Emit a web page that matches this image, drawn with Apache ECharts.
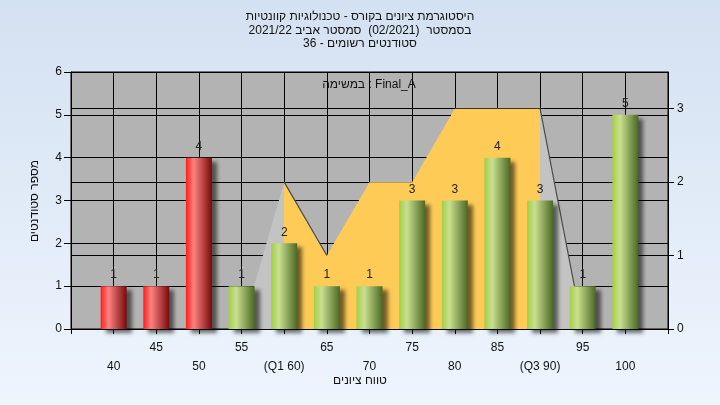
<!DOCTYPE html>
<html><head><meta charset="utf-8">
<script src="https://cdn.jsdelivr.net/npm/echarts@6/dist/echarts.min.js"></script>
<style>html,body{margin:0;padding:0;background:#e6eef8}#c{width:720px;height:405px;}</style>
</head><body><div id="c"></div>
<script>
// ---- data ----
const titleLines = ['היסטוגרמת ציונים בקורס - טכנולוגיות קוונטיות', 'בסמסטר  (02/2021)  סמסטר אביב 2021/22', 'סטודנטים רשומים - 36'];
const taskLabel = 'במשימה : Final_A';
const yAxisName = 'מספר סטודנטים';
const xAxisName = 'טווח ציונים';
const grades = [40, 45, 50, 55, 60, 65, 70, 75, 80, 85, 90, 95, 100];
const counts = [1, 1, 4, 1, 2, 1, 1, 3, 3, 4, 3, 1, 5];
const failBelow = 55;
const quartileLabels = {60: '(Q1 60)', 90: '(Q3 90)'};
const distX = [55, 60, 65, 70, 75, 80, 85, 90, 95];
const distY = [0, 2, 1, 2, 2, 3, 3, 3, 0];
const q1 = 60, q3 = 90;

// ---- chart ----
const RLM = '\u200F';
const FONT = "'Liberation Sans', Arial, 'DejaVu Sans', sans-serif";
const chart = echarts.init(document.getElementById('c'), null, {renderer: 'canvas'});

const xMin = 35, xMax = 105;
const redGrad = new echarts.graphic.LinearGradient(0, 0, 1, 0, [
  {offset: 0, color: '#ff1c1c'}, {offset: 0.3, color: '#ff8282'}, {offset: 1, color: '#780a0a'}]);
const greenGrad = new echarts.graphic.LinearGradient(0, 0, 1, 0, [
  {offset: 0, color: '#a2cf46'}, {offset: 0.3, color: '#c9df90'}, {offset: 1, color: '#4b6823'}]);

const span = distX[distX.length - 1] - distX[0];
const a = (q1 - distX[0]) / span, b = (q3 - distX[0]) / span;
const areaGrad = new echarts.graphic.LinearGradient(0, 0, 1, 0, [
  {offset: 0, color: '#c3c3c3'}, {offset: a, color: '#c3c3c3'},
  {offset: a, color: '#fecb57'}, {offset: b, color: '#fecb57'},
  {offset: b, color: '#c3c3c3'}, {offset: 1, color: '#c3c3c3'}]);

// descending edges of the distribution outline
const descData = [];
for (let i = 0; i < distX.length - 1; i++) {
  if (distY[i + 1] < distY[i]) {
    if (descData.length) descData.push([distX[i], '-']);
    descData.push([distX[i], distY[i]], [distX[i + 1], distY[i + 1]]);
  }
}

const barData = grades.map((g, i) => ({
  value: [g, counts[i]],
  itemStyle: {color: g < failBelow ? redGrad : greenGrad}
}));

chart.setOption({
  backgroundColor: new echarts.graphic.LinearGradient(0, 0, 0, 1, [
    {offset: 0, color: '#d4e1f2'}, {offset: 1, color: '#eef5fd'}]),
  animation: false,
  title: {
    text: titleLines.map(t => RLM + t + RLM).join('\n'),
    left: 'center', top: 10, padding: 0,
    textStyle: {fontFamily: FONT, fontSize: 12, fontWeight: 'normal', color: '#111', lineHeight: 13.5}
  },
  grid: {left: 71, right: 52, top: 72, bottom: 76, show: true, backgroundColor: '#b3b3b3', borderColor: '#000', borderWidth: 1},
  xAxis: {
    type: 'value', min: xMin, max: xMax, interval: 5,
    axisLine: {lineStyle: {color: '#000'}},
    axisTick: {show: true, length: 5, lineStyle: {color: '#000'}},
    splitLine: {show: true, lineStyle: {color: '#000', width: 1}},
    axisLabel: {
      margin: 9, fontFamily: FONT, fontSize: 12, color: '#111', lineHeight: 19,
      formatter: v => {
        if (v < grades[0] || v > grades[grades.length - 1]) return '';
        const t = quartileLabels[v] || String(v);
        return (v % 10 === 0) ? '\n' + t : t;
      }
    }
  },
  yAxis: [{
    type: 'value', min: 0, max: 6, interval: 1, position: 'left',
    axisLine: {show: true, lineStyle: {color: '#000'}},
    axisTick: {show: true, length: 7, lineStyle: {color: '#000'}},
    splitLine: {show: true, lineStyle: {color: '#000', width: 1}},
    axisLabel: {margin: 9, fontFamily: FONT, fontSize: 12, color: '#111'}
  }, {
    type: 'value', min: 0, max: 3.5, interval: 1, position: 'right',
    axisLine: {show: true, lineStyle: {color: '#000'}},
    axisTick: {show: true, length: 6, lineStyle: {color: '#000'}},
    splitLine: {show: true, lineStyle: {color: '#000', width: 1}},
    axisLabel: {margin: 9, fontFamily: FONT, fontSize: 12, color: '#111', showMaxLabel: false,
      formatter: v => (v % 1 === 0 ? String(v) : '')}
  }],
  graphic: [
    {type: 'text', x: 369, y: 85, z: 10, style: {text: taskLabel, font: '12px ' + FONT, fill: '#111', textAlign: 'center', textVerticalAlign: 'middle'}},
    {type: 'text', x: 360, y: 381, style: {text: xAxisName, font: '12px ' + FONT, fill: '#111', textAlign: 'center', textVerticalAlign: 'middle'}},
    {type: 'text', x: 35, y: 201, rotation: Math.PI / 2, style: {text: yAxisName, font: '12px ' + FONT, fill: '#111', textAlign: 'center', textVerticalAlign: 'middle'}}
  ],
  series: [{
    type: 'line', yAxisIndex: 1, data: distX.map((x, i) => [x, distY[i]]),
    symbol: 'none', lineStyle: {width: 0, opacity: 0}, areaStyle: {color: areaGrad, opacity: 1}, z: 2, silent: true
  }, {
    type: 'line', yAxisIndex: 1, data: descData, symbol: 'none', connectNulls: false,
    lineStyle: {width: 1.2, color: '#4a4a4a'}, z: 3, silent: true
  }, {
    type: 'bar', yAxisIndex: 0, data: barData, barWidth: 26, z: 4,
    itemStyle: {shadowBlur: 4, shadowOffsetX: 5, shadowOffsetY: 4, shadowColor: 'rgba(0,0,0,0.55)'},
    label: {show: true, position: 'top', distance: 5, fontFamily: FONT, fontSize: 12, color: '#222'}
  }]
});
</script>
</body></html>
